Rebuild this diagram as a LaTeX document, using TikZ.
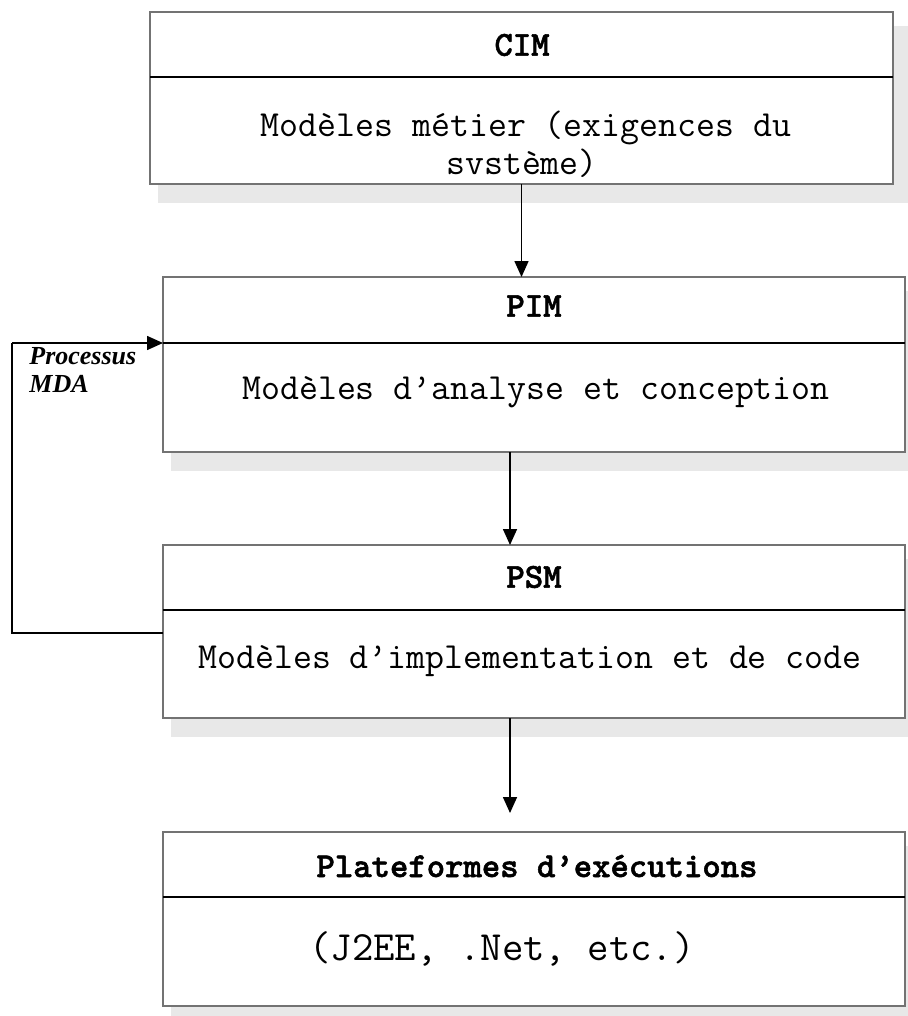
\documentclass[tikz,border=0pt]{standalone}
\usepackage{fontspec}
\setmainfont{Liberation Serif}
\newfontfamily\headfont{lmmonolt10-bold}[Extension=.otf,FakeBold=1.5]
\usetikzlibrary{arrows.meta,calc}
\tikzset{
  part/.style={draw=black!55, line width=1.4pt, fill=white, inner sep=0pt, outer sep=0pt, anchor=north west},
  shade box/.style={fill=black!9, draw=none},
  divider/.style={draw=black, line width=1.3pt},
  conn/.style={draw=black, line width=0.8pt, -{Triangle[length=8pt,width=7pt]}},
  loopline/.style={draw=black, line width=0.8pt},
  head/.style={font=\fontsize{17.5}{20}\selectfont\headfont, inner sep=0pt},
  body/.style={font=\fontsize{18.4}{17.5}\selectfont\ttfamily, inner sep=0pt, align=center},
  lab/.style={font=\fontsize{13}{14}\selectfont\rmfamily\bfseries\itshape, inner sep=0pt, align=left, anchor=north west}
}
\begin{document}
\begin{tikzpicture}[x=0.5pt,y=-0.5pt]
\useasboundingbox (0,0) rectangle (907,1016);
% shadows
\fill[shade box] (158,26) rectangle (910,203);
\fill[shade box] (171,291) rectangle (920,471);
\fill[shade box] (171,559) rectangle (920,737);
\fill[shade box] (171,846) rectangle (920,1016);
% CIM
\node[part, minimum width=371.5pt, minimum height=32.5pt] (cimhead) at (150,12) {};
\node[part, minimum width=371.5pt, minimum height=53.5pt] (cimbody) at (150,77) {};
\draw[divider] (cimhead.south west) -- (cimhead.south east);
\node[head] (cimt) at (522,45) {CIM};
\node[body] (cimb1) at (526,128) {Modèles métier (exigences du};
\node[body] (cimb2) at (522,163) {svstème)};
% PIM
\node[part, minimum width=371pt, minimum height=33pt] (pimhead) at (163,277) {};
\node[part, minimum width=371pt, minimum height=54.5pt] (pimbody) at (163,343) {};
\draw[divider] (pimhead.south west) -- (pimhead.south east);
\node[head] (pimt) at (534,306) {PIM};
\node[body] (pimb) at (536,392) {Modèles d’analyse et conception};
% PSM
\node[part, minimum width=371pt, minimum height=32.5pt] (psmhead) at (163,545) {};
\node[part, minimum width=371pt, minimum height=54pt] (psmbody) at (163,610) {};
\draw[divider] (psmhead.south west) -- (psmhead.south east);
\node[head] (psmt) at (534,577) {PSM};
\node[body] (psmb) at (530,661) {Modèles d’implementation et de code};
% Platforms
\node[part, minimum width=371pt, minimum height=32.5pt] (plathead) at (163,832) {};
\node[part, minimum width=371pt, minimum height=54.5pt] (platbody) at (163,897) {};
\draw[divider] (plathead.south west) -- (plathead.south east);
\node[head] (platt) at (537,866) {Plateformes d’exécutions};
\node[body, font=\fontsize{20.8}{22}\selectfont\ttfamily] (platb) at (502,949) {(J2EE, .Net, etc.)};
% connectors
\draw[conn] (cimbody.south) -- (cimbody.south |- pimhead.north);
\coordinate (a2) at (510,452);
\draw[conn] (a2) -- (a2 |- psmhead.north);
\coordinate (a3) at (510,718);
\coordinate (a3e) at (510,813);
\draw[conn] (a3) -- (a3e);
% feedback loop
\coordinate (l1) at (12,633);
\coordinate (l2) at (12,343);
\draw[loopline] (psmbody.west |- l1) -- (l1) -- (l2);
\draw[conn] (l2) -- (pimbody.north west);
\node[lab] (mda) at (29,347) {Processus\\MDA};
\end{tikzpicture}
\end{document}
